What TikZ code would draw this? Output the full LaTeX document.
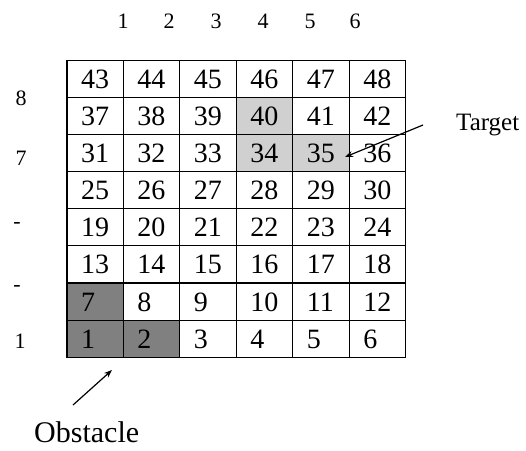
\documentclass[tikz,border=0pt]{standalone}
\usepackage{fontspec}
\setmainfont{Liberation Serif}
\usetikzlibrary{arrows.meta}
\definecolor{lightcell}{HTML}{D0D0D0}
\definecolor{darkcell}{HTML}{808080}
\begin{document}
\begin{tikzpicture}[x=1pt,y=-1pt,
  cell/.style={draw=black,line width=1.1pt,minimum height=37.09pt,text width=28.45pt,
    text height=19pt,text depth=0pt,
    inner xsep=14pt,inner ysep=0pt,align=left,font=\fontsize{28}{28}\selectfont},
  lab/.style={font=\fontsize{22}{22}\selectfont,inner sep=0pt,anchor=base},
  callout/.style={line width=1.2pt,-{Stealth[length=8pt,width=6pt]}},
  word/.style={inner sep=0pt,anchor=base west}]
\useasboundingbox (0,0) rectangle (526,450);
\foreach \r in {1,...,8}{
  \foreach \c in {1,...,6}{
    \pgfmathtruncatemacro\n{(\r-1)*6+\c}
    \def\cf{white}
    \ifnum\n=34 \def\cf{lightcell}\fi
    \ifnum\n=35 \def\cf{lightcell}\fi
    \ifnum\n=40 \def\cf{lightcell}\fi
    \ifnum\n=1 \def\cf{darkcell}\fi
    \ifnum\n=2 \def\cf{darkcell}\fi
    \ifnum\n=7 \def\cf{darkcell}\fi
    \node[cell,fill=\cf] (c\n) at ({67+(\c-0.5)*56.45},{356.7-(\r-0.5)*37.09+0.5}) {\n};
  }
}
% column labels
\node[lab] (col1) at (123,28) {1};
\node[lab] (col2) at (169,28) {2};
\node[lab] (col3) at (216,28) {3};
\node[lab] (col4) at (263,28) {4};
\node[lab] (col5) at (310,28) {5};
\node[lab] (col6) at (355,28) {6};
% row labels
\node[lab] (row8) at (21,105) {8};
\node[lab] (row7) at (21,165) {7};
\node[lab,anchor=center] (rowa) at (17,225) {-};
\node[lab,anchor=center] (rowb) at (17,288) {-};
\node[lab] (row1) at (20,348) {1};
% callouts
\node[word,font=\fontsize{25}{25}\selectfont] (target) at (456,130) {Target};
\node[word,font=\fontsize{30}{30}\selectfont] (obstacle) at (34,442) {Obstacle};
\coordinate (ta) at (423,125);
\coordinate (tb) at (345,157);
\draw[callout] (ta) -- (tb);
\coordinate (oa) at (73,405);
\coordinate (ob) at (112,370);
\draw[callout] (oa) -- (ob);
\end{tikzpicture}
\end{document}
